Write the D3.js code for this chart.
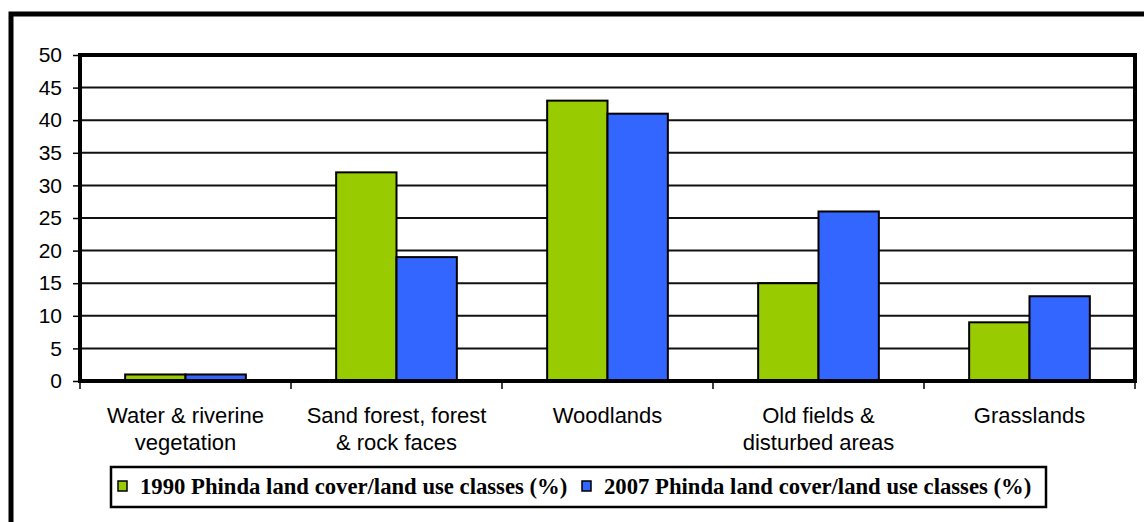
<!DOCTYPE html>
<html>
<head>
<meta charset="utf-8">
<script src="https://cdn.jsdelivr.net/npm/d3@7"></script>
<style>
  html, body { margin: 0; padding: 0; background: #fff; }
  svg { display: block; }
</style>
</head>
<body>
<svg id="chart" width="1144" height="522"></svg>
<script>
// Land cover classes and their share (%) in each survey year
const categories = [
  ["Water & riverine", "vegetation"],
  ["Sand forest, forest", "& rock faces"],
  ["Woodlands"],
  ["Old fields &", "disturbed areas"],
  ["Grasslands"]
];
const series1990 = [1, 32, 43, 15, 9];
const series2007 = [1, 19, 41, 26, 13];
const seriesNames = [
  "1990 Phinda land cover/land use classes (%)",
  "2007 Phinda land cover/land use classes (%)"
];
const seriesColors = ["#99cc00", "#3366ff"];
const yTicks = [0, 5, 10, 15, 20, 25, 30, 35, 40, 45, 50];

const svg = d3.select("#chart");
const W = 1144, H = 522;
const plot = { left: 80, right: 1135, top: 55, bottom: 381 };

// Outer frame (left and top edges visible)
svg.append("path")
  .attr("d", `M11,${H} L11,14 L${W},14`)
  .attr("fill", "none").attr("stroke", "#000").attr("stroke-width", 5);

const x0 = d3.scaleBand()
  .domain(d3.range(categories.length))
  .range([plot.left, plot.right])
  .padding(0);
const barW = x0.bandwidth() * 0.286;
const x1 = d3.scaleBand()
  .domain([0, 1])
  .range([-barW, barW])
  .padding(0);
const y = d3.scaleLinear().domain([0, 50]).range([plot.bottom, plot.top]);

// Horizontal gridlines
svg.append("g").selectAll("line")
  .data(yTicks.slice(1, -1))
  .join("line")
  .attr("x1", plot.left).attr("x2", plot.right)
  .attr("y1", d => y(d)).attr("y2", d => y(d))
  .attr("stroke", "#111").attr("stroke-width", 2);

// Bars
const data = categories.map((c, i) => [series1990[i], series2007[i]]);
const groups = svg.append("g").selectAll("g")
  .data(data)
  .join("g")
  .attr("transform", (d, i) => `translate(${x0(i) + x0.bandwidth() / 2},0)`);
groups.selectAll("rect")
  .data(d => d.map((v, s) => ({ v, s })))
  .join("rect")
  .attr("x", d => x1(d.s))
  .attr("width", x1.bandwidth())
  .attr("y", d => y(d.v))
  .attr("height", d => y(0) - y(d.v))
  .attr("fill", d => seriesColors[d.s])
  .attr("stroke", "#000").attr("stroke-width", 2);

// Plot area border
svg.append("rect")
  .attr("x", plot.left).attr("y", plot.top)
  .attr("width", plot.right - plot.left)
  .attr("height", plot.bottom - plot.top)
  .attr("fill", "none").attr("stroke", "#000").attr("stroke-width", 4);

// Y axis
const yAxis = d3.axisLeft(y).tickValues(yTicks).tickSize(7).tickPadding(11);
const gy = svg.append("g").attr("transform", `translate(${plot.left},0)`).call(yAxis);
gy.select(".domain").remove();
gy.selectAll(".tick line").attr("stroke", "#000").attr("stroke-width", 1.5);
gy.selectAll(".tick text")
  .attr("font-family", "Liberation Sans, Arial, sans-serif")
  .attr("font-size", 21).attr("fill", "#000");

// X axis ticks at category boundaries
const bounds = d3.range(categories.length + 1).map(i => plot.left + i * x0.bandwidth());
svg.append("g").selectAll("line")
  .data(bounds)
  .join("line")
  .attr("x1", d => d).attr("x2", d => d)
  .attr("y1", plot.bottom).attr("y2", plot.bottom + 8)
  .attr("stroke", "#000").attr("stroke-width", 1.5);

// Category labels
const labels = svg.append("g").selectAll("text")
  .data(categories)
  .join("text")
  .attr("text-anchor", "middle")
  .attr("font-family", "Liberation Sans, Arial, sans-serif")
  .attr("font-size", 22).attr("fill", "#000")
  .attr("transform", (d, i) => `translate(${x0(i) + x0.bandwidth() / 2},423)`);
labels.selectAll("tspan")
  .data(d => d)
  .join("tspan")
  .attr("x", 0)
  .attr("y", (d, j) => j * 27)
  .text(d => d);

// Legend
const legend = svg.append("g");
legend.append("rect")
  .attr("x", 111).attr("y", 467).attr("width", 935).attr("height", 40)
  .attr("fill", "#fff").attr("stroke", "#000").attr("stroke-width", 2.5);
const legendX = [118, 582];
seriesNames.forEach((name, s) => {
  legend.append("rect")
    .attr("x", legendX[s]).attr("y", 481).attr("width", 9).attr("height", 10)
    .attr("fill", seriesColors[s]).attr("stroke", "#000").attr("stroke-width", 1.5);
  legend.append("text")
    .attr("x", legendX[s] + 22).attr("y", 494)
    .attr("font-family", "Liberation Serif, Times New Roman, serif")
    .attr("font-weight", "bold")
    .attr("font-size", 22.7).attr("fill", "#000")
    .text(name);
});
</script>
</body>
</html>
